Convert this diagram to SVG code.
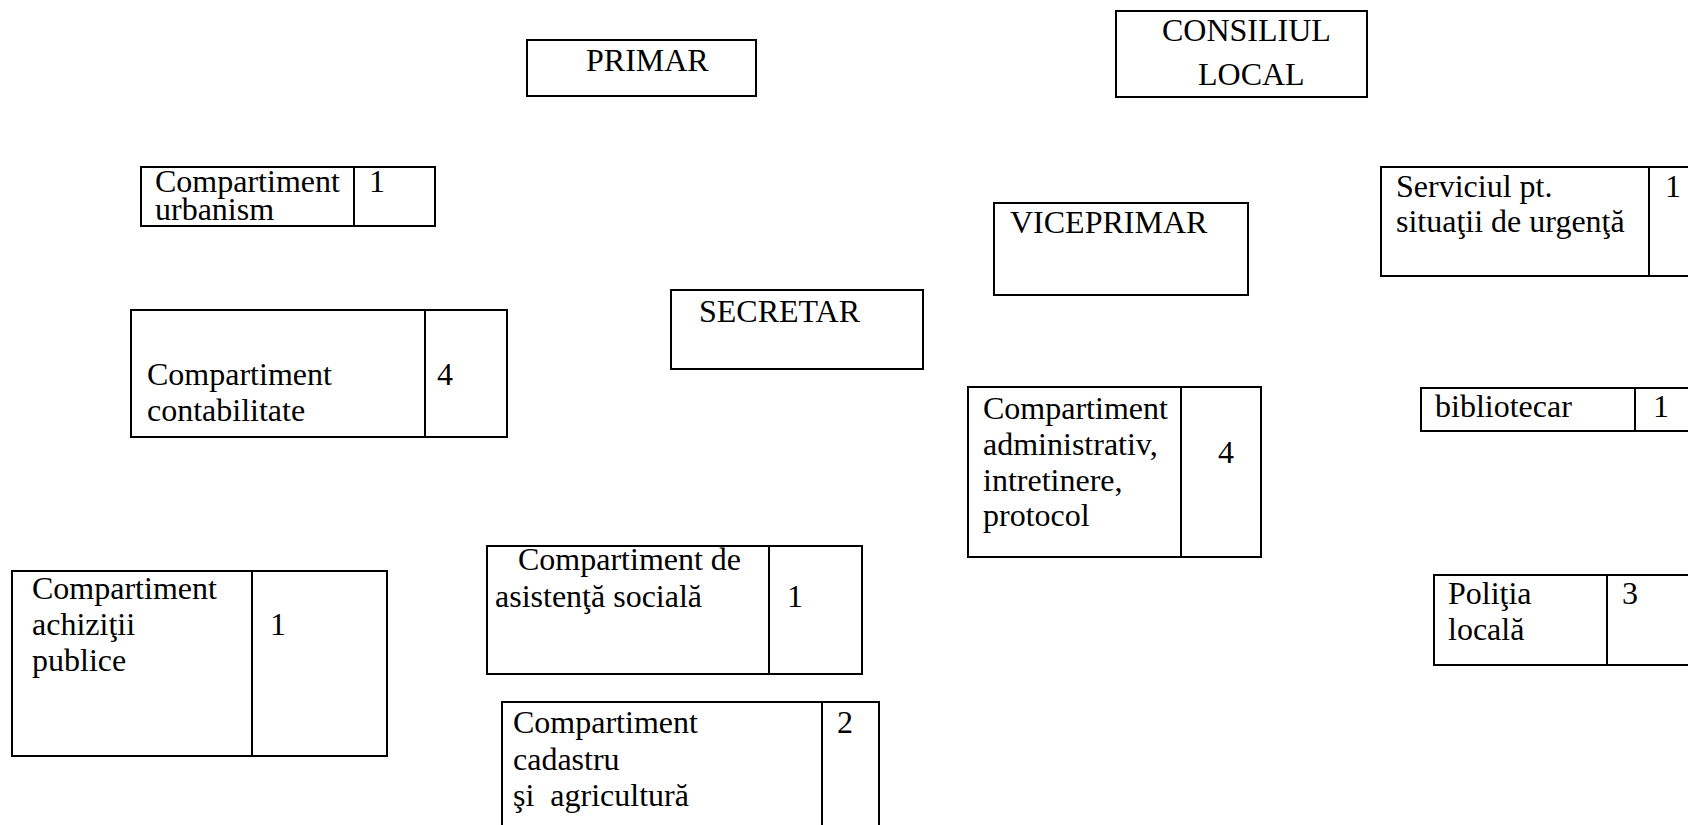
<svg xmlns="http://www.w3.org/2000/svg" width="1688" height="825" viewBox="0 0 1688 825">
<style>
.b{fill:#fff;stroke:#000;stroke-width:2}
.d{stroke:#000;stroke-width:2}
text{font-family:"Liberation Serif","Times New Roman",serif;font-size:32px;fill:#000}
</style>
<rect width="1688" height="825" fill="#fff"/>
<g id="connectors"></g>
<g id="primar"><rect class="b" x="527" y="40" width="229" height="56"/><text x="586" y="71">PRIMAR</text></g>
<g id="consiliul"><rect class="b" x="1116" y="11" width="251" height="86"/><text x="1162" y="41">CONSILIUL</text><text x="1198" y="85">LOCAL</text></g>
<g id="urbanism"><rect class="b" x="141" y="167" width="294" height="59"/><line class="d" x1="354" y1="167" x2="354" y2="226"/><text x="155" y="192">Compartiment</text><text x="155" y="220">urbanism</text><text x="369" y="192">1</text></g>
<g id="contabilitate"><rect class="b" x="131" y="310" width="376" height="127"/><line class="d" x1="425" y1="310" x2="425" y2="437"/><text x="147" y="385">Compartiment</text><text x="147" y="421">contabilitate</text><text x="437" y="385">4</text></g>
<g id="secretar"><rect class="b" x="671" y="290" width="252" height="79"/><text x="699" y="322">SECRETAR</text></g>
<g id="viceprimar"><rect class="b" x="994" y="203" width="254" height="92"/><text x="1010" y="233">VICEPRIMAR</text></g>
<g id="serviciul"><rect class="b" x="1381" y="167" width="330" height="109"/><line class="d" x1="1649" y1="167" x2="1649" y2="276"/><text x="1396" y="197">Serviciul pt.</text><text x="1396" y="232">situaţii de urgenţă</text><text x="1665" y="197">1</text></g>
<g id="administrativ"><rect class="b" x="968" y="387" width="293" height="170"/><line class="d" x1="1181" y1="387" x2="1181" y2="557"/><text x="983" y="419">Compartiment</text><text x="983" y="455">administrativ,</text><text x="983" y="491">intretinere,</text><text x="983" y="526">protocol</text><text x="1218" y="463">4</text></g>
<g id="bibliotecar"><rect class="b" x="1421" y="388" width="290" height="43"/><line class="d" x1="1635" y1="388" x2="1635" y2="431"/><text x="1435" y="417">bibliotecar</text><text x="1653" y="417">1</text></g>
<g id="politia"><rect class="b" x="1434" y="575" width="277" height="90"/><line class="d" x1="1607" y1="575" x2="1607" y2="665"/><text x="1448" y="604">Poliţia</text><text x="1448" y="640">locală</text><text x="1622" y="604">3</text></g>
<g id="achizitii"><rect class="b" x="12" y="571" width="375" height="185"/><line class="d" x1="252" y1="571" x2="252" y2="756"/><text x="32" y="599">Compartiment</text><text x="32" y="635">achiziţii</text><text x="32" y="671">publice</text><text x="270" y="635">1</text></g>
<g id="asistenta"><rect class="b" x="487" y="546" width="375" height="128"/><line class="d" x1="769" y1="546" x2="769" y2="674"/><text x="518" y="570">Compartiment de</text><text x="495" y="607">asistenţă socială</text><text x="787" y="607">1</text></g>
<g id="cadastru"><rect class="b" x="502" y="702" width="377" height="140"/><line class="d" x1="822" y1="702" x2="822" y2="842"/><text x="513" y="733">Compartiment</text><text x="513" y="770">cadastru</text><text x="513" y="806" xml:space="preserve">şi  agricultură</text><text x="837" y="733">2</text></g>
</svg>
